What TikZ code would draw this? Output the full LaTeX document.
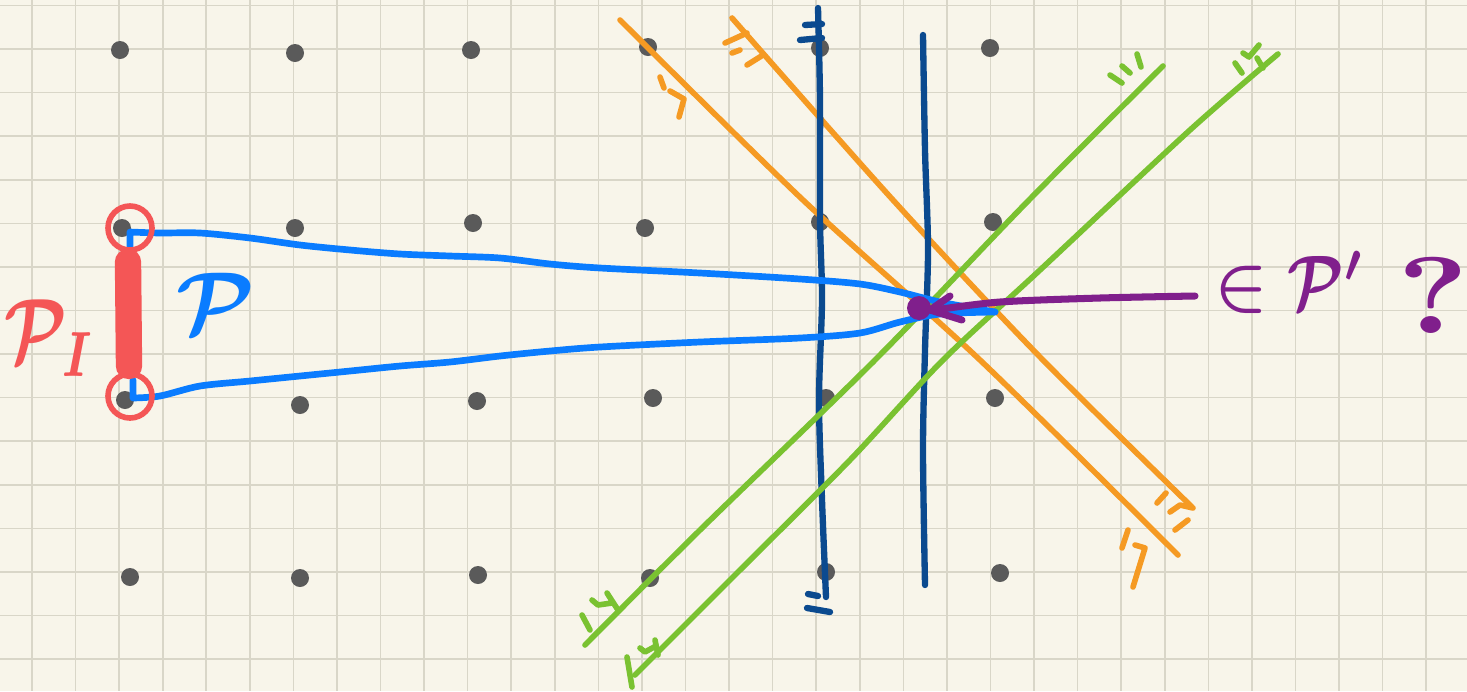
\documentclass[tikz,border=0pt]{standalone}
\usepackage{amsmath}
\usepackage{graphicx}
\definecolor{paper}{HTML}{F8F5EA}
\definecolor{gridc}{HTML}{D9D6C8}
\definecolor{dotc}{HTML}{5A5A5A}
\definecolor{bluec}{HTML}{0A7CFF}
\definecolor{navyc}{HTML}{0B4A8F}
\definecolor{orangec}{HTML}{F59A23}
\definecolor{greenc}{HTML}{7AC231}
\definecolor{redc}{HTML}{F45656}
\definecolor{purplec}{HTML}{801F8C}
\tikzset{
  pen/.style={line cap=round,line join=round},
  gridline/.style={draw=gridc,line width=0.9pt},
  latdot/.style={fill=dotc},
  navyline/.style={pen,draw=navyc,line width=3.6pt},
  orangeline/.style={pen,draw=orangec,line width=3.2pt},
  greenline/.style={pen,draw=greenc,line width=3.2pt},
  blueline/.style={pen,draw=bluec,line width=3.8pt},
  redline/.style={pen,draw=redc,line width=3.2pt},
  purpleline/.style={pen,draw=purplec,line width=4pt},
}
\begin{document}
\begin{tikzpicture}[x=0.02cm,y=-0.02cm]
\fill[paper] (0,0) rectangle (1467,691);
\useasboundingbox (0,0) rectangle (1467,691);
% grid
\foreach \k in {0,...,32} \draw[gridline] ({32+43.57*\k},0) -- ({32+43.57*\k},691);
\foreach \k in {0,...,15} \draw[gridline] (0,{5.5+43.57*\k}) -- (1467,{5.5+43.57*\k});
% lattice dots
\foreach \p in {(120,50),(295,53),(471,50),(648,47),(820,48),(990,48),
  (122,228),(295,228),(473,223),(645,228),(820,222),(993,222),
  (125,400),(300,405),(477,401),(653,398),(826,398),(995,398),
  (130,577),(300,578),(478,575),(650,578),(826,572),(1000,573)}
  \fill[latdot] \p circle (9);
% orange lines
\draw[orangeline] plot[smooth] coordinates {(620,20)(803,200)(980,360)(1178,555)};
\draw[orangeline] (660,77)--(664,88) (670,91)--(684,99)--(679,117);
\draw[orangeline] (1122,548)--(1128,530) (1135,545)--(1145,548)--(1133,587);
\draw[orangeline] plot[smooth] coordinates {(732,18)(893,200)(1040,357)(1192,507)};
\draw[orangeline] (725,43)--(747,33) (732,53)--(740,50) (747,65)--(763,55);
\draw[orangeline] (1157,503)--(1166,493) (1170,512)--(1180,505)--(1193,508) (1175,530)--(1188,520);
% navy lines
\draw[navyline] plot[smooth] coordinates {(818,8)(820,100)(820,220)(822,300)(819,400)(822,500)(826,597)};
\draw[navyline] (805,25)--(822,24) (800,40)--(822,38);
\draw[navyline] (808,594)--(818,596) (807,608)--(830,612);
\draw[navyline] plot[smooth] coordinates {(923,35)(925,150)(928,250)(925,350)(923,450)(925,585)};
% green lines
\draw[greenline] plot[smooth] coordinates {(1163,66)(1029,200)(875,360)(700,530)(585,645)};
\draw[greenline] (1110,75)--(1122,83) (1122,66)--(1130,73) (1137,54)--(1141,67);
\draw[greenline] (582,615)--(590,630) (592,600)--(598,605)--(612,603) (607,593)--(618,610);
\draw[greenline] plot[smooth] coordinates {(1278,54)(1190,130)(1040,270)(943,360)(850,460)(740,570)(635,675)};
\draw[greenline] (1235,63)--(1242,73) (1243,53)--(1249,57)--(1259,45) (1257,58)--(1263,68);
\draw[greenline] (627,657)--(632,687) (640,648)--(645,652)--(656,646) (655,640)--(658,655);
% blue region
\draw[blueline] (130,255) -- (130,232) plot[smooth] coordinates {(130,232)(160,233)(200,233)(250,238)(300,245)(350,250)(400,254)(450,256)(500,258)(550,264)(600,268)(700,273)(800,279)(860,284)(900,292)(940,302)(995,312)};
\draw[blueline] (133,380) -- (133,398) plot[smooth] coordinates {(133,398)(160,396)(200,386)(250,381)(300,376)(350,371)(400,366)(450,362)(500,356)(550,351)(600,347)(700,342)(800,338)(860,333)(900,322)(940,314)(995,312)};
% red
\draw[pen,draw=redc,line width=15pt] (128,262) -- (129,366);
\draw[redline] (130,228) circle (22);
\draw[redline] (130,396) circle (22);
% purple
\fill[purplec] (919,308) circle (12);
\draw[purpleline] plot[smooth] coordinates {(1195,296)(1100,298)(1000,302)(935,310)};
\draw[purpleline] (950,296)--(930,310)--(962,320);
% labels
\node[text=redc,inner sep=0pt] (pi) at (50,338) {\scalebox{4.0}[5.2]{\boldmath$\mathcal{P}_{\scriptstyle I}$}};
\node[text=bluec,inner sep=0pt] (p) at (216,303) {\scalebox{5.0}{\boldmath$\mathcal{P}$}};
\node[text=purplec,inner sep=0pt] (in) at (1241,290) {\scalebox{4.0}{\boldmath$\in$}};
\node[text=purplec,inner sep=0pt] (pp) at (1326,280) {\scalebox{3.6}[4.4]{\boldmath$\mathcal{P}'$}};
\node[text=purplec,inner sep=0pt] (qm) at (1433,295) {\scalebox{7.5}[6.2]{\bfseries ?}};
\end{tikzpicture}
\end{document}
